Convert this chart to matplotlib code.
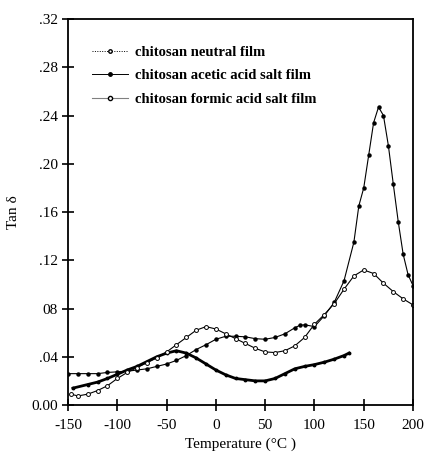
import matplotlib
matplotlib.use("Agg")
import matplotlib.pyplot as plt
from matplotlib.lines import Line2D
from matplotlib.ticker import FixedLocator, FixedFormatter

# --- data ---
temp_acetic = [-150, -140, -130, -120, -110, -100, -90, -80, -70, -60, -50, -40, -30, -20, -10,
               0, 10, 20, 30, 40, 50, 60, 70, 80, 85, 90, 100, 110, 120, 130, 140, 145,
               150, 155, 160, 165, 170, 175, 180, 185, 190, 195, 200]
tan_acetic = [0.026, 0.026, 0.026, 0.026, 0.027, 0.0275, 0.028, 0.029, 0.030, 0.032, 0.034, 0.037,
              0.041, 0.046, 0.050, 0.0545, 0.057, 0.057, 0.0565, 0.055, 0.0545, 0.056, 0.059,
              0.064, 0.066, 0.0665, 0.065, 0.074, 0.085, 0.103, 0.135, 0.165, 0.180, 0.207,
              0.234, 0.247, 0.240, 0.215, 0.183, 0.152, 0.125, 0.108, 0.099]

temp_formic = [-147, -140, -130, -120, -110, -100, -90, -80, -70, -60, -50, -40, -30, -20, -10,
               0, 10, 20, 30, 40, 50, 60, 70, 80, 90, 100, 110, 120, 130, 140, 150, 160, 170,
               180, 190, 200]
tan_formic = [0.009, 0.0075, 0.009, 0.012, 0.016, 0.022, 0.027, 0.031, 0.035, 0.039, 0.044,
              0.050, 0.056, 0.062, 0.065, 0.063, 0.059, 0.055, 0.051, 0.047, 0.044, 0.0435,
              0.045, 0.049, 0.056, 0.067, 0.075, 0.084, 0.096, 0.107, 0.112, 0.109, 0.101,
              0.094, 0.088, 0.083]

temp_neutral = [-145, -130, -120, -110, -100, -90, -80, -70, -60, -50, -40, -30, -20, -10,
                0, 10, 20, 30, 40, 50, 60, 70, 80, 90, 100, 110, 120, 130, 135]
tan_neutral = [0.014, 0.017, 0.019, 0.022, 0.0255, 0.029, 0.032, 0.036, 0.040, 0.043, 0.045,
               0.043, 0.039, 0.034, 0.029, 0.025, 0.022, 0.021, 0.020, 0.020, 0.022, 0.026,
               0.030, 0.032, 0.0335, 0.0355, 0.038, 0.041, 0.043]

labels = ["chitosan neutral film", "chitosan acetic acid salt film",
          "chitosan formic acid salt film"]
xticks = [-150, -100, -50, 0, 50, 100, 150, 200]
yticks = [0.0, 0.04, 0.08, 0.12, 0.16, 0.20, 0.24, 0.28, 0.32]
ytick_labels = ["0.00", ".04", "08", ".12", ".16", ".20", ".24", ".28", ".32"]

plt.rcParams["font.family"] = ["Liberation Serif", "DejaVu Serif"]
plt.rcParams["axes.unicode_minus"] = False

fig = plt.figure(figsize=(4.28, 4.68), dpi=100)
ax = fig.add_axes([0.159, 0.1346, 0.806, 0.8248])

ax.plot(temp_neutral, tan_neutral, color="black", lw=2.0, marker="o", ms=1.8)
ax.plot(temp_acetic, tan_acetic, color="black", lw=0.8, marker="o", ms=2.2)
ax.plot(temp_formic, tan_formic, color="black", lw=0.8, marker="o", ms=2.8,
        markerfacecolor="white", markeredgewidth=0.7)

# legend keys as drawn in the original
handles = [
    Line2D([], [], color="black", lw=0.7, ls=(0, (1, 1.5)), marker="o", ms=2.5,
           markerfacecolor="white", markevery=[1]),
    Line2D([], [], color="black", lw=0.7, marker="o", ms=2.5, markevery=[1]),
    Line2D([], [], color="gray", lw=0.8, marker="o", ms=3, markerfacecolor="white",
           markeredgecolor="black", markevery=[1]),
]

ax.set_xlim(-150, 200)
ax.set_ylim(0, 0.32)
ax.xaxis.set_major_locator(FixedLocator(xticks))
ax.yaxis.set_major_locator(FixedLocator(yticks))
ax.yaxis.set_major_formatter(FixedFormatter(ytick_labels))
ax.tick_params(direction="inout", length=8, width=1.2, labelsize=11)
ax.tick_params(axis="x", pad=6)
for s in ax.spines.values():
    s.set_linewidth(1.3)

ax.set_xlabel("Temperature (°C )", fontsize=11, labelpad=4)
ax.set_ylabel("Tan δ", fontsize=11, labelpad=8)

ax.legend(handles, labels, loc="upper left", bbox_to_anchor=(0.03, 0.965), frameon=False,
          handlelength=2.5, handletextpad=0.5, labelspacing=0.7,
          prop={"weight": "bold", "size": 10.5})

fig.savefig("out.png", dpi=100)
